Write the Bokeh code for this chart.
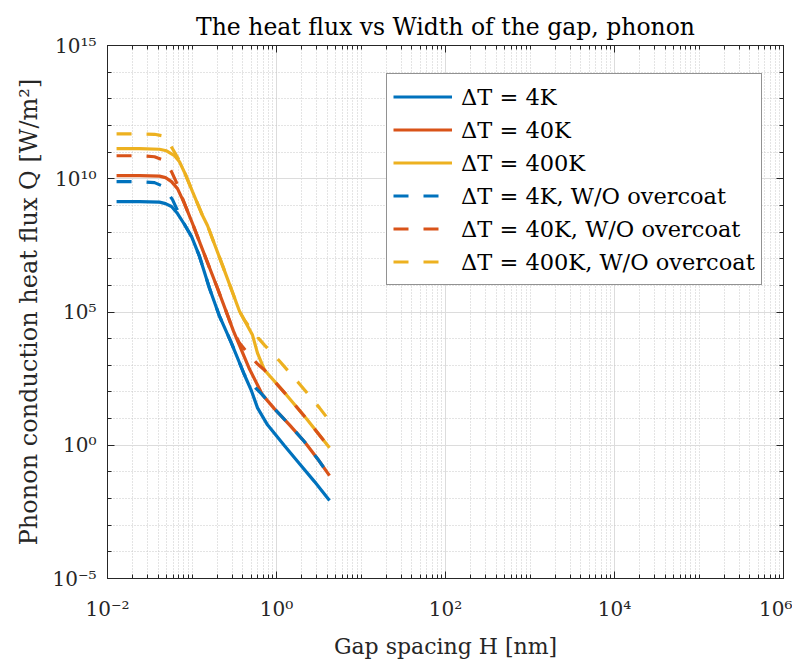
from bokeh.plotting import figure
from bokeh.models import FixedTicker, Legend, LegendItem, Range1d, LogAxis
from bokeh.embed import file_html
from bokeh.resources import INLINE

# ---------------- data ----------------
H_4K = [0.0128, 0.0239, 0.0412, 0.0486, 0.0572, 0.0674, 0.0815, 0.0986, 0.1227, 0.161,
        0.2115, 0.293, 0.418, 0.506, 0.596, 0.782, 1.244, 1.872, 2.817, 4.24]
Q_4K = [1.39e9, 1.39e9, 1.33e9, 1.17e9, 9.05e8, 4.95e8, 1.92e8, 6.84e7, 1.22e7, 7.76e5,
        6.96e4, 6.81e3, 433, 109, 25.3, 5.84, 0.958, 0.203, 0.0432, 0.0084]

H_40K = [0.0128, 0.0239, 0.0412, 0.0486, 0.0572, 0.0674, 0.0815, 0.1014, 0.1261, 0.2003,
         0.3098, 0.479, 0.596, 0.683, 0.947, 1.425, 2.145, 3.056, 4.24]
Q_40K = [1.31e10, 1.31e10, 1.25e10, 1.10e10, 7.80e9, 4.26e9, 1.17e9, 2.09e8, 3.43e7, 7.76e5,
         1.91e4, 726, 183, 77.4, 23.2, 5.84, 1.35, 0.313, 0.0723]

H_400K = [0.0128, 0.0239, 0.0412, 0.0499, 0.0621, 0.0711, 0.0838, 0.1014, 0.1332, 0.1525,
          0.2296, 0.3649, 0.520, 0.596, 0.721, 1.313, 2.265, 4.24]
Q_400K = [1.34e11, 1.34e11, 1.28e11, 1.12e11, 7.31e10, 4.36e10, 1.42e10, 3.29e9, 4.17e8, 1.76e8,
          5.62e6, 1.07e5, 1.36e4, 2.88e3, 666, 77.4, 9.80, 0.806]

H_4K_wo = [0.0128, 0.0239, 0.036, 0.0436, 0.0513, 0.0588, 0.0674, 0.0751, 0.0815, 0.0986,
           0.1227, 0.161, 0.2115, 0.293, 0.418, 0.479, 0.564, 0.683, 0.947, 1.425,
           2.145, 3.056, 4.24]
Q_4K_wo = [7.80e9, 7.80e9, 7.15e9, 5.52e9, 3.02e9, 1.65e9, 6.41e8, 2.95e8, 1.92e8, 6.84e7,
           1.22e7, 7.76e5, 6.96e4, 6.81e3, 433, 258, 141, 77.4, 23.2, 5.84,
           1.35, 0.313, 0.0723]

H_40K_wo = [0.0128, 0.0239, 0.036, 0.0448, 0.0499, 0.0572, 0.0656, 0.0751, 0.0815, 0.1014,
            0.1261, 0.2003, 0.3098, 0.3649, 0.479, 0.596, 0.721, 1.313, 2.265, 4.24]
Q_40K_wo = [7.31e10, 7.31e10, 6.70e10, 5.18e10, 3.67e10, 1.85e10, 7.15e9, 2.33e9, 1.17e9, 2.09e8,
            3.43e7, 7.76e5, 1.91e4, 6.81e3, 2.42e3, 1.12e3, 666, 77.4, 9.80, 0.806]

H_400K_wo = [0.0128, 0.0239, 0.036, 0.0448, 0.0513, 0.0588, 0.0711, 0.0838, 0.1014, 0.1332,
             0.1525, 0.2296, 0.3649, 0.418, 0.520, 0.596, 0.721, 1.085, 1.872, 3.228, 4.24]
Q_400K_wo = [4.86e11, 4.86e11, 4.66e11, 4.09e11, 2.66e11, 1.34e11, 4.75e10, 1.42e10, 3.29e9, 4.17e8,
             1.76e8, 5.62e6, 1.07e5, 4.93e4, 1.91e4, 1.14e4, 5.73e3, 1.45e3, 200, 25.3, 8.24]

series_labels = ["ΔT = 4K", "ΔT = 40K", "ΔT = 400K",
                 "ΔT = 4K, W/O overcoat", "ΔT = 40K, W/O overcoat", "ΔT = 400K, W/O overcoat"]

x_major = [1e-2, 1e0, 1e2, 1e4, 1e6]
x_tick_labels = ["10⁻²", "10⁰", "10²", "10⁴", "10⁶"]
y_major = [1e-5, 1e0, 1e5, 1e10, 1e15]
y_tick_labels = ["10⁻⁵", "10⁰", "10⁵", "10¹⁰", "10¹⁵"]

title_text = "The heat flux vs Width of the gap, phonon"
x_label = "Gap spacing H [nm]"
y_label = "Phonon conduction heat flux Q [W/m²]"

# ---------------- styling ----------------
BLUE, ORANGE, YELLOW = "#0072BD", "#D95319", "#EDB120"
AX = "#262626"
FONT = "DejaVu Serif"

x_minor = [k * 10.0 ** d for d in range(-2, 6) for k in range(1, 10) if 10.0 ** d * k not in x_major]
y_minor = [10.0 ** d for d in range(-5, 16) if 10.0 ** d not in y_major]
xt = FixedTicker(ticks=x_major, minor_ticks=x_minor)
yt = FixedTicker(ticks=y_major, minor_ticks=y_minor)

p = figure(width=792, height=661, x_axis_type="log", y_axis_type="log",
           x_range=Range1d(1e-2, 1e6), y_range=Range1d(1e-5, 1e15),
           output_backend="svg", toolbar_location=None,
           min_border_left=107, min_border_right=9, min_border_top=45, min_border_bottom=81,
           background_fill_color="white", border_fill_color="white")

p.title.text = title_text
p.title.align = "center"
p.title.text_font = FONT
p.title.text_font_size = "23.5px"
p.title.text_font_style = "normal"
p.title.text_color = "#000000"
p.title.standoff = 10

p.outline_line_color = AX
p.outline_line_width = 1

for ax, tk, labs in ((p.xaxis[0], xt, x_tick_labels), (p.yaxis[0], yt, y_tick_labels)):
    ax.ticker = tk
    ax.major_label_overrides = dict(zip(tk.ticks, labs))
    ax.major_label_text_font = FONT
    ax.major_label_text_font_size = "20px"
    ax.major_label_text_color = AX
    ax.axis_label_text_font = FONT
    ax.axis_label_text_font_style = "normal"
    ax.axis_label_text_color = AX
    ax.axis_line_color = AX
    ax.major_tick_line_color = AX
    ax.minor_tick_line_color = AX
    ax.major_tick_in = 7
    ax.major_tick_out = 0
    ax.minor_tick_in = 4
    ax.minor_tick_out = 0

p.xaxis.axis_label = x_label
p.xaxis.axis_label_text_font_size = "22px"
p.xaxis.major_label_standoff = 18
p.xaxis.axis_label_standoff = 10
p.yaxis.axis_label = y_label
p.yaxis.axis_label_text_font_size = "24px"
p.yaxis.major_label_standoff = 11
p.yaxis.axis_label_standoff = 6

# mirrored ticks on the top and right edges (box on), with invisible labels
for loc, tk in (("above", xt), ("right", yt)):
    mirror = LogAxis(ticker=tk, major_label_text_font_size="1px", major_label_text_alpha=0.0,
                     major_label_standoff=0, major_tick_in=7, major_tick_out=0,
                     minor_tick_in=4, minor_tick_out=0, axis_line_color=AX,
                     major_tick_line_color=AX, minor_tick_line_color=AX)
    p.add_layout(mirror, loc)

for g, tk in ((p.xgrid[0], xt), (p.ygrid[0], yt)):
    g.ticker = tk
    g.grid_line_color = "#dcdcdc"
    g.grid_line_width = 1
    g.minor_grid_line_color = "#c8c8c8"
    g.minor_grid_line_dash = "1 2"
    g.minor_grid_line_width = 1

LW = 3.2
DASH = "15 15"
r1 = p.line(H_4K, Q_4K, line_color=BLUE, line_width=LW)
r2 = p.line(H_40K, Q_40K, line_color=ORANGE, line_width=LW)
r3 = p.line(H_400K, Q_400K, line_color=YELLOW, line_width=LW)
r4 = p.line(H_4K_wo, Q_4K_wo, line_color=BLUE, line_width=LW, line_dash=DASH)
r5 = p.line(H_40K_wo, Q_40K_wo, line_color=ORANGE, line_width=LW, line_dash=DASH)
r6 = p.line(H_400K_wo, Q_400K_wo, line_color=YELLOW, line_width=LW, line_dash=DASH)

items = [LegendItem(label=lab, renderers=[r]) for lab, r in zip(series_labels, [r1, r2, r3, r4, r5, r6])]
legend = Legend(items=items, location=(279, 293),
                label_text_font=FONT, label_text_font_size="22.5px", label_text_color="#000000",
                glyph_width=59, glyph_height=33, label_height=33, spacing=0,
                padding=6, label_standoff=9, margin=0,
                border_line_color=AX, border_line_width=1,
                background_fill_color="white", background_fill_alpha=1.0)
p.add_layout(legend, "center")

open("out.html", "w").write(file_html(p, INLINE))
